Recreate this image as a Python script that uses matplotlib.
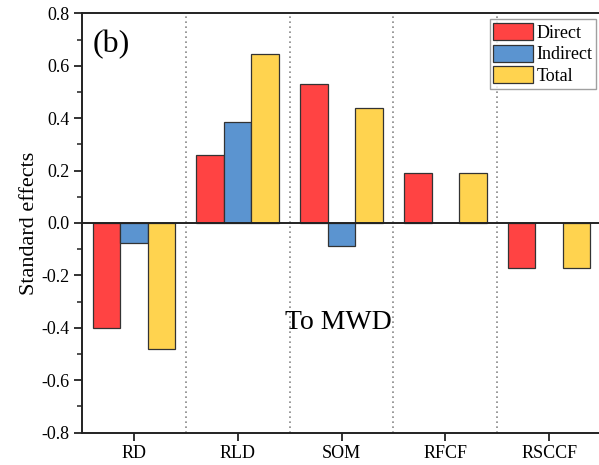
import matplotlib.pyplot as plt
import numpy as np
from matplotlib.ticker import MultipleLocator

categories = ["RD", "RLD", "SOM", "RFCF", "RSCCF"]
direct = [-0.40, 0.26, 0.53, 0.19, -0.173]
indirect = [-0.078, 0.385, -0.088, 0.0, 0.0]
total = [-0.48, 0.645, 0.44, 0.19, -0.173]

series_names = ["Direct", "Indirect", "Total"]
colors = ["#FF4343", "#5B94D0", "#FFD34F"]


def main():
    plt.rcParams['font.family'] = ['Liberation Serif', 'DejaVu Serif']

    fig = plt.figure(figsize=(5.99, 4.65), dpi=100)
    ax = fig.add_axes([82 / 599, 1 - 432.5 / 465, 519 / 599, (432.5 - 13.5) / 465])

    x = np.arange(len(categories))
    w = 0.265
    for i, (vals, name, c) in enumerate(zip([direct, indirect, total], series_names, colors)):
        # skip zero bars so nothing is drawn where there is no effect
        xs = [xi + (i - 1) * w for xi, v in zip(x, vals) if v != 0]
        vs = [v for v in vals if v != 0]
        ax.bar(xs, vs, width=w, color=c, edgecolor="#333333", linewidth=0.9, label=name, zorder=2)

    ax.axhline(0, color="#222222", linewidth=1.4, zorder=3)
    for xb in x[:-1] + 0.5:
        ax.axvline(xb, color="#888888", linestyle=(0, (1, 2)), linewidth=1.2, zorder=1)

    ax.set_xlim(-0.5, 4.5)
    ax.set_ylim(-0.8, 0.8)
    ax.set_xticks(x)
    ax.set_xticklabels(categories)
    ax.yaxis.set_major_locator(MultipleLocator(0.2))
    ax.yaxis.set_minor_locator(MultipleLocator(0.1))
    ax.set_yticklabels([f"{v:.1f}" for v in ax.get_yticks()])
    ax.tick_params(axis="both", which="major", direction="out", length=6, width=1.3,
                   labelsize=13, color="#222222", pad=3)
    ax.tick_params(axis="y", which="minor", direction="out", length=3.5, width=1.1, color="#222222")
    for s in ax.spines.values():
        s.set_linewidth(1.4)
        s.set_color("#222222")

    ax.set_ylabel("Standard effects", fontsize=16, labelpad=2)

    ax.text(0.02, 0.96, "(b)", transform=ax.transAxes, fontsize=23, va="top", ha="left")
    ax.text(2.0 - 0.03, -0.38, "To MWD", fontsize=20, ha="center", va="center")

    ax.legend(loc="upper right", bbox_to_anchor=(0.994, 0.99), fontsize=13, frameon=True,
              fancybox=False, edgecolor="#888888", handlelength=2.2, handleheight=1.1,
              handletextpad=0.2, labelspacing=0.15, borderpad=0.2, borderaxespad=0.1)

    fig.savefig("out.png", dpi=100)


if __name__ == "__main__":
    main()
